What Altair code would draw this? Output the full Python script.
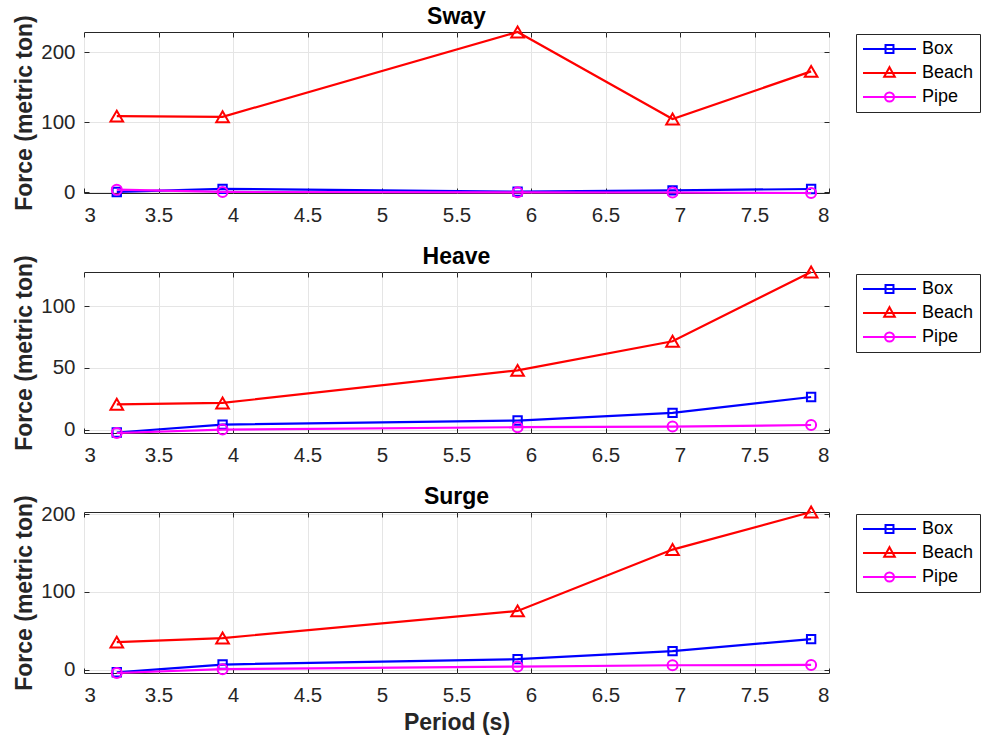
import altair as alt
import pandas as pd

FONT = "Liberation Sans"

periods = [3.22, 3.93, 5.91, 6.95, 7.88]
series_names = ["Box", "Beach", "Pipe"]
series_colors = ["#0000ff", "#ff0000", "#ff00ff"]
series_shapes = ["square", "triangle-up", "circle"]
series_sizes = [70, 160, 100]

sway_box = [0.6, 5.0, 1.0, 2.9, 4.8]
sway_beach = [109, 108, 229.3, 105, 173]
sway_pipe = [3.8, 0.6, 0.0, -0.2, -0.9]

heave_box = [-2.4, 4.0, 7.3, 13.5, 26.4]
heave_beach = [20.5, 21.6, 48, 71.6, 127.8]
heave_pipe = [-2.8, 0.0, 1.9, 2.4, 3.7]

surge_box = [-3.5, 6.5, 13.4, 23.7, 39.3]
surge_beach = [35.4, 40.6, 75.6, 154.6, 203]
surge_pipe = [-4.4, 0.5, 3.9, 5.6, 6.0]

x_domain = [3, 8]
x_ticks = [3, 3.5, 4, 4.5, 5, 5.5, 6, 6.5, 7, 7.5, 8]
sway_domain = [-0.9, 229.3]
heave_domain = [-2.8, 127.8]
surge_domain = [-4.4, 203]
sway_ticks = [0, 100, 200]
heave_ticks = [0, 50, 100]
surge_ticks = [0, 100, 200]

# legend glyphs: line segment with marker in the middle
legend_paths = [
    "M-1,0H1M-0.15,-0.15H0.15V0.15H-0.15Z",
    "M-1,0H1M0,-0.22L0.2,0.14H-0.2Z",
    "M-1,0H1M0.17,0A0.17,0.17,0,1,1,-0.17,0A0.17,0.17,0,1,1,0.17,0Z",
]

W, H = 745, 161
AXC = "#262626"
GRID = "#e5e5e5"
TICK_FS = 20.5
TITLE_FS = 23


def panel(title, box, beach, pipe, ydom, yticks, xtitle):
    rows = []
    for name, vals in zip(series_names, [box, beach, pipe]):
        for p, v in zip(periods, vals):
            rows.append({"period": p, "force": v, "series": name})
    df = pd.DataFrame(rows)
    base = alt.Chart(df)
    xs = alt.Scale(domain=x_domain, nice=False, zero=False)
    ys = alt.Scale(domain=ydom, nice=False, zero=False)
    cs = alt.Scale(domain=series_names, range=series_colors)

    x_main = alt.X("period:Q", scale=xs, axis=alt.Axis(
        values=x_ticks, format="~r", grid=True, gridColor=GRID, domain=False,
        ticks=True, tickSize=5, offset=-5, tickColor=AXC, labelPadding=12,
        labelFontSize=TICK_FS, labelColor=AXC, labelFont=FONT,
        title=xtitle, titleFontSize=TITLE_FS, titleFont=FONT, titleFontWeight="bold",
        titleColor=AXC, titlePadding=6))
    y_main = alt.Y("force:Q", scale=ys, axis=alt.Axis(
        values=yticks, format="~r", grid=True, gridColor=GRID, domain=False,
        ticks=True, tickSize=5, offset=-5, tickColor=AXC, labelPadding=9,
        labelFontSize=TICK_FS, labelColor=AXC, labelFont=FONT,
        minExtent=48, maxExtent=48,
        title="Force (metric ton)", titleFontSize=TITLE_FS, titleFont=FONT,
        titleFontWeight="bold", titleColor=AXC, titlePadding=5))
    x_top = alt.X("period:Q", scale=xs, axis=alt.Axis(
        orient="top", values=x_ticks, grid=False, domain=False, labels=False,
        ticks=True, tickSize=5, offset=-5, tickColor=AXC, title=None,
        minExtent=0, maxExtent=0))
    y_right = alt.Y("force:Q", scale=ys, axis=alt.Axis(
        orient="right", values=yticks, grid=False, domain=False, labels=False,
        ticks=True, tickSize=5, offset=-5, tickColor=AXC, title=None,
        minExtent=0, maxExtent=0))
    x_none = alt.X("period:Q", scale=xs, axis=None)
    y_none = alt.Y("force:Q", scale=ys, axis=None)

    layers = []
    for i, name in enumerate(series_names):
        sub = base.transform_filter(alt.datum.series == name)
        if i == 0:
            lx, ly = x_main, y_main
            px, py = x_top, y_right
        else:
            lx, ly = x_none, y_none
            px, py = x_none, y_none
        layers.append(sub.mark_line(strokeWidth=2.2, color=series_colors[i]).encode(x=lx, y=ly))
        layers.append(sub.mark_point(shape=series_shapes[i], size=series_sizes[i],
                                     filled=False, strokeWidth=2, opacity=1,
                                     color=series_colors[i])
                      .encode(x=px, y=py))

    leg = alt.Legend(title=None, orient="none", legendX=772, legendY=2,
                     direction="vertical", padding=6, strokeColor=AXC,
                     fillColor="white", labelFont=FONT, labelFontSize=18,
                     labelColor="black", symbolSize=2809, symbolStrokeWidth=2,
                     rowPadding=6, labelOffset=5, clipHeight=18,
                     symbolOpacity=1, labelExpr="datum.label + '   '")
    legend_layer = base.transform_filter("false").mark_point(
        filled=False, strokeWidth=2, opacity=1).encode(
        x=x_none, y=y_none,
        color=alt.Color("series:N", scale=cs, legend=leg),
        shape=alt.Shape("series:N", scale=alt.Scale(domain=series_names, range=legend_paths),
                        legend=leg))
    layers.append(legend_layer)

    return alt.layer(*layers).resolve_axis(x="independent", y="independent").properties(
        width=W, height=H,
        title=alt.TitleParams(text=title, fontSize=TITLE_FS, font=FONT, fontWeight="bold",
                              color="black", offset=-14, frame="group", anchor="middle"))


p1 = panel("Sway", sway_box, sway_beach, sway_pipe, sway_domain, sway_ticks, None)
p2 = panel("Heave", heave_box, heave_beach, heave_pipe, heave_domain, heave_ticks, None)
p3 = panel("Surge", surge_box, surge_beach, surge_pipe, surge_domain, surge_ticks, "Period (s)")

chart = alt.vconcat(p1, p2, p3, spacing=19).resolve_scale(
    x="independent", y="independent", color="independent", shape="independent"
).resolve_legend(color="independent", shape="independent").properties(
    padding={"left": 12, "top": 5, "right": 0, "bottom": 0},
    background="white",
).configure_view(stroke=AXC, strokeWidth=1)

chart.save("out.html", embed_options={"renderer": "svg", "actions": False})
